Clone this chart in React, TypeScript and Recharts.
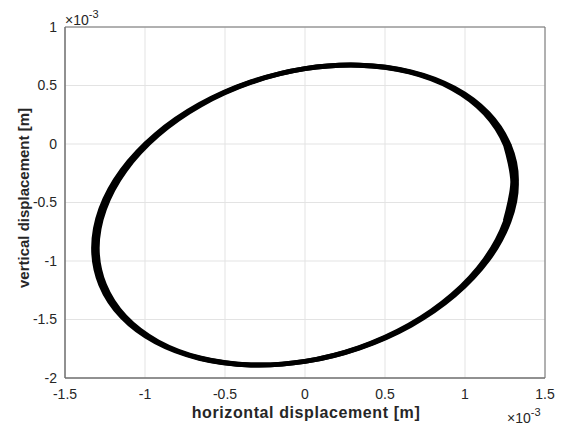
import React from 'react';
import { ComposedChart, Line, XAxis, YAxis, CartesianGrid, ReferenceArea } from 'recharts';

// values in units of 1e-3 m
const xTicks = [-1.5, -1, -0.5, 0, 0.5, 1, 1.5];
const yTicks = [-2, -1.5, -1, -0.5, 0, 0.5, 1];

// closed loop (first/last points overlap to close smoothly)
const loopY = [-0.658, -0.325, -0.011, 0.263, 0.477, 0.617, 0.674, 0.644, 0.528, 0.335, 0.078, -0.226, -0.556, -0.889, -1.203, -1.477, -1.691, -1.831, -1.888, -1.858, -1.742, -1.549, -1.292, -0.988, -0.658, -0.325, -0.011];
const innerX = [1.252, 1.299, 1.254, 1.125, 0.919, 0.65, 0.336, 0, -0.336, -0.65, -0.919, -1.125, -1.254, -1.299, -1.254, -1.125, -0.919, -0.65, -0.336, 0, 0.336, 0.65, 0.919, 1.125, 1.254, 1.299, 1.254];
const outerX = [1.276, 1.321, 1.276, 1.144, 0.934, 0.661, 0.342, 0, -0.342, -0.661, -0.934, -1.144, -1.276, -1.321, -1.276, -1.144, -0.934, -0.661, -0.342, 0, 0.342, 0.661, 0.934, 1.144, 1.276, 1.321, 1.276];

const innerData = innerX.map((x, i) => ({ x, y: loopY[i] }));
const outerData = outerX.map((x, i) => ({ x, y: loopY[i] }));

const FONT = '"Liberation Sans", Arial, sans-serif';
const TXT = '#262626';

export default function App() {
  return (
    <div style={{ position: 'absolute', left: 0, top: 0, width: 565, height: 428, background: '#fff', fontFamily: FONT }}>
      <ComposedChart width={565} height={428} margin={{ top: 27, right: 20, bottom: 20, left: 25 }}>
        <CartesianGrid stroke="#e3e3e3" strokeWidth={1} />
        <XAxis
          type="number"
          dataKey="x"
          domain={[-1.5, 1.5]}
          ticks={xTicks}
          allowDataOverflow
          height={30}
          tickSize={0}
          tickMargin={11}
          axisLine={{ stroke: '#707070' }}
          tick={{ fill: TXT, fontSize: 14, fontFamily: FONT }}
        />
        <YAxis
          type="number"
          dataKey="y"
          domain={[-2, 1]}
          ticks={yTicks}
          allowDataOverflow
          width={40}
          tickSize={0}
          tickMargin={8}
          axisLine={{ stroke: '#707070' }}
          tick={{ fill: TXT, fontSize: 14, fontFamily: FONT }}
        />
        <ReferenceArea x1={-1.5} x2={1.5} y1={-2} y2={1} fill="none" stroke="#707070" strokeWidth={1} />
        <Line data={outerData} dataKey="y" type="natural" stroke="#000" strokeWidth={5} dot={false} isAnimationActive={false} />
        <Line data={innerData} dataKey="y" type="natural" stroke="#000" strokeWidth={5} dot={false} isAnimationActive={false} />
      </ComposedChart>
      <div style={{ position: 'absolute', left: 65, top: 9, fontSize: 14, color: TXT, whiteSpace: 'nowrap' }}>
        ×10<sup style={{ fontSize: 11, position: 'relative', top: -1 }}>-3</sup>
      </div>
      <div style={{ position: 'absolute', left: 507, top: 407, fontSize: 14, color: TXT, whiteSpace: 'nowrap' }}>
        ×10<sup style={{ fontSize: 11, position: 'relative', top: -1 }}>-3</sup>
      </div>
      <div style={{ position: 'absolute', left: 306, top: 413, transform: 'translate(-50%, -50%)', fontSize: 16, letterSpacing: 0.6, fontWeight: 'bold', color: TXT, whiteSpace: 'nowrap' }}>
        horizontal displacement [m]
      </div>
      <div style={{ position: 'absolute', left: 23, top: 198, transform: 'translate(-50%, -50%) rotate(-90deg)', fontSize: 15, fontWeight: 'bold', color: TXT, whiteSpace: 'nowrap' }}>
        vertical displacement [m]
      </div>
    </div>
  );
}
